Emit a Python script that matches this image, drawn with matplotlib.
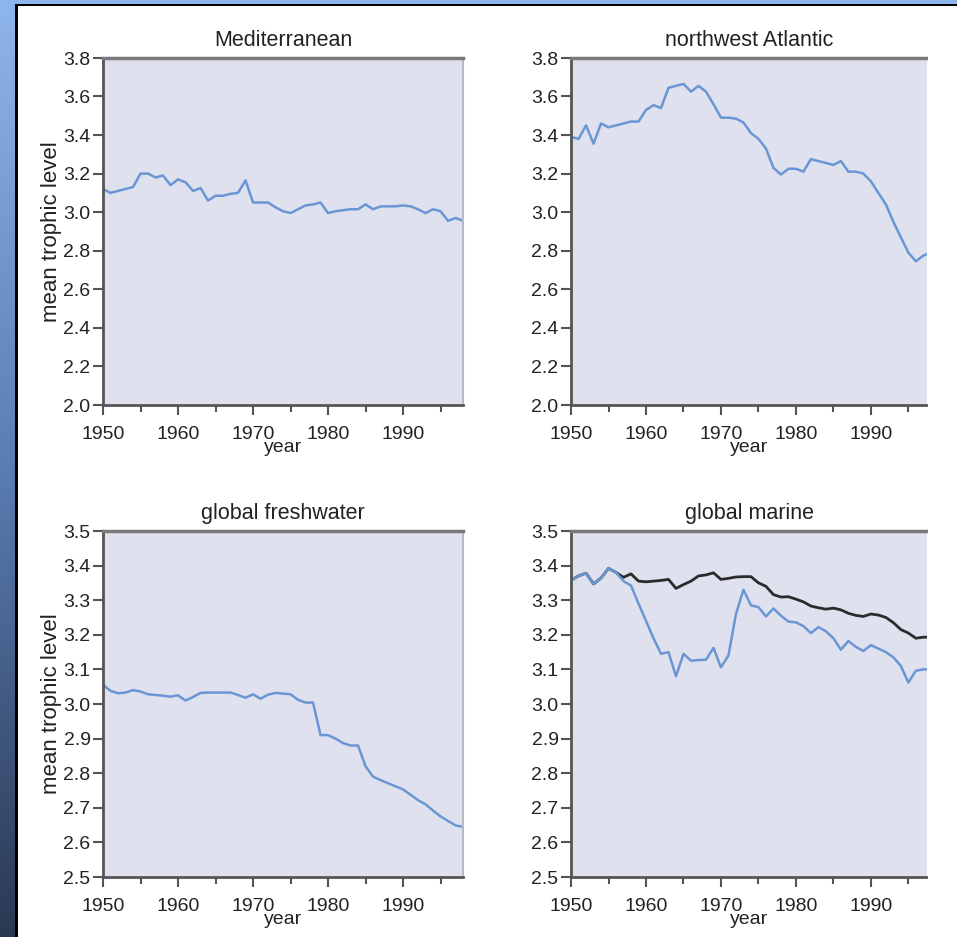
import numpy as np
import matplotlib
matplotlib.use("Agg")
import matplotlib.pyplot as plt
from matplotlib.patches import Rectangle
from matplotlib.ticker import MultipleLocator, FormatStrFormatter
from matplotlib.colors import LinearSegmentedColormap

plt.rcParams['font.family'] = ['Liberation Sans', 'DejaVu Sans']

years = list(range(1950, 1999))

mediterranean = [3.12, 3.10, 3.11, 3.12, 3.13, 3.20, 3.20, 3.18, 3.19, 3.14,
                 3.17, 3.155, 3.11, 3.125, 3.06, 3.085, 3.085, 3.095, 3.10, 3.165,
                 3.05, 3.05, 3.05, 3.025, 3.005, 2.995, 3.015, 3.035, 3.04, 3.05,
                 2.995, 3.005, 3.01, 3.015, 3.015, 3.04, 3.015, 3.03, 3.03, 3.03,
                 3.035, 3.03, 3.015, 2.995, 3.015, 3.005, 2.955, 2.97, 2.955]

nw_atlantic = [3.39, 3.38, 3.45, 3.355, 3.46, 3.44, 3.45, 3.46, 3.47, 3.47,
               3.53, 3.555, 3.54, 3.645, 3.655, 3.665, 3.625, 3.655, 3.625, 3.56,
               3.49, 3.49, 3.485, 3.465, 3.41, 3.38, 3.33, 3.23, 3.195, 3.225,
               3.225, 3.21, 3.275, 3.265, 3.255, 3.245, 3.265, 3.21, 3.21, 3.20,
               3.16, 3.10, 3.04, 2.95, 2.87, 2.79, 2.745, 2.775, 2.79]

freshwater = [3.055, 3.038, 3.031, 3.033, 3.04, 3.036, 3.028, 3.026, 3.024, 3.021,
              3.025, 3.01, 3.02, 3.032, 3.033, 3.033, 3.033, 3.033, 3.026, 3.018,
              3.028, 3.015, 3.027, 3.032, 3.03, 3.028, 3.012, 3.004, 3.004, 2.91,
              2.91, 2.90, 2.887, 2.88, 2.88, 2.82, 2.79, 2.78, 2.771, 2.762,
              2.753, 2.738, 2.722, 2.71, 2.692, 2.675, 2.662, 2.649, 2.645]

marine_blue = [3.358, 3.37, 3.378, 3.347, 3.364, 3.392, 3.38, 3.355, 3.342, 3.29,
               3.24, 3.19, 3.145, 3.15, 3.08, 3.145, 3.125, 3.127, 3.128, 3.162,
               3.106, 3.14, 3.26, 3.33, 3.285, 3.28, 3.253, 3.276, 3.255, 3.238,
               3.236, 3.225, 3.205, 3.222, 3.21, 3.19, 3.157, 3.182, 3.165, 3.153,
               3.17, 3.16, 3.15, 3.135, 3.11, 3.062, 3.096, 3.10, 3.10]

marine_black = [3.358, 3.37, 3.378, 3.347, 3.364, 3.392, 3.38, 3.366, 3.376, 3.355,
                3.353, 3.355, 3.357, 3.36, 3.334, 3.345, 3.355, 3.37, 3.373, 3.379,
                3.36, 3.363, 3.367, 3.368, 3.368, 3.35, 3.34, 3.316, 3.309, 3.31,
                3.303, 3.295, 3.283, 3.278, 3.274, 3.277, 3.272, 3.262, 3.256, 3.253,
                3.26, 3.257, 3.25, 3.235, 3.215, 3.205, 3.19, 3.193, 3.193]

titles = ["Mediterranean", "northwest Atlantic", "global freshwater", "global marine"]
x_ticks = [1950, 1960, 1970, 1980, 1990]

W, H = 957, 937
fig = plt.figure(figsize=(W / 100.0 + 0.001, H / 100.0 + 0.001), dpi=100)
fig.patch.set_facecolor('white')

# background frame: gradient strip at left, light blue strip at top, black edges
grad_ax = fig.add_axes([0, 0, 15.5 / W, 1])
grad = np.linspace(0, 1, 256).reshape(-1, 1)
cmap = LinearSegmentedColormap.from_list('frame', ['#8fb6ec', '#5a7db3', '#2a3852'])
grad_ax.imshow(grad, aspect='auto', cmap=cmap, extent=[0, 1, 0, 1], origin='upper')
grad_ax.set_axis_off()
fig.add_artist(Rectangle((0, 1 - 4 / H), 1, 4 / H, transform=fig.transFigure,
                         facecolor='#8fb6ec', edgecolor='none', zorder=0))
fig.add_artist(Rectangle((15 / W, 0), 2.5 / W, 1 - 4 / H, transform=fig.transFigure,
                         facecolor='black', edgecolor='none', zorder=1))
fig.add_artist(Rectangle((15 / W, 1 - 6.5 / H), 1 - 15 / W, 2.5 / H, transform=fig.transFigure,
                         facecolor='black', edgecolor='none', zorder=1))


def px_axes(x0, x1, ytop, ybot):
    return fig.add_axes([x0 / W, 1 - ybot / H, (x1 - x0) / W, (ybot - ytop) / H])


ax_tl = px_axes(103, 463, 58, 405)
ax_tr = px_axes(571, 927, 58, 405)
ax_bl = px_axes(103, 463, 531, 877)
ax_br = px_axes(571, 927, 531, 877)

blue = '#6a97d4'
face = '#dfe1ef'
spine_c = '#555555'
txt_c = '#222222'
fs_tick = 14
fs_title = 15.5
fs_ylab = 16


def style(ax, title, ylim, ystep, xmax, right_spine=True, ylabel=False):
    ax.set_facecolor(face)
    ax.set_xlim(1950, xmax)
    ax.set_ylim(*ylim)
    ax.xaxis.set_minor_locator(MultipleLocator(5))
    ax.yaxis.set_major_locator(MultipleLocator(ystep))
    ax.yaxis.set_major_formatter(FormatStrFormatter('%.1f'))
    ax.set_xticks(x_ticks)
    ax.tick_params(axis='both', which='major', length=7, width=1.5, color=spine_c,
                   labelsize=fs_tick, labelcolor=txt_c)
    ax.tick_params(axis='x', which='major', pad=8)
    ax.tick_params(axis='y', which='major', pad=2)
    ax.tick_params(axis='x', which='minor', length=5, width=1.5, color=spine_c)
    for s in ['left', 'bottom']:
        ax.spines[s].set_color(spine_c)
        ax.spines[s].set_linewidth(2)
    ax.spines['top'].set_color('#7a7a7a')
    ax.spines['top'].set_linewidth(2.5)
    ax.spines['right'].set_color('#b8bac8')
    ax.spines['right'].set_linewidth(1.5)
    if not right_spine:
        ax.spines['right'].set_visible(False)
    ax.set_title(title, fontsize=fs_title, pad=9, color=txt_c)
    ax.set_xlabel('year', fontsize=fs_tick, labelpad=-2.5, color=txt_c)
    if ylabel:
        ax.set_ylabel('mean trophic level', fontsize=fs_ylab, labelpad=1, color=txt_c)


ax_tl.plot(years, mediterranean, color=blue, lw=1.8)
style(ax_tl, titles[0], (2.0, 3.8), 0.2, 1998, ylabel=True)

ax_tr.plot(years, nw_atlantic, color=blue, lw=1.8)
style(ax_tr, titles[1], (2.0, 3.8), 0.2, 1997.5, right_spine=False)

ax_bl.plot(years, freshwater, color=blue, lw=1.8)
style(ax_bl, titles[2], (2.5, 3.5), 0.1, 1998, ylabel=True)

ax_br.plot(years, marine_black, color='#2b2b2b', lw=2.0)
ax_br.plot(years, marine_blue, color=blue, lw=1.8)
style(ax_br, titles[3], (2.5, 3.5), 0.1, 1997.5, right_spine=False)

# keep the right margin plain white, as in the reference
fig.add_artist(Rectangle((928 / W, 0), 1 - 928 / W, 1 - 6.5 / H, transform=fig.transFigure,
                         facecolor='white', edgecolor='none', zorder=5))

fig.savefig('out.png', dpi=100, facecolor='white')
